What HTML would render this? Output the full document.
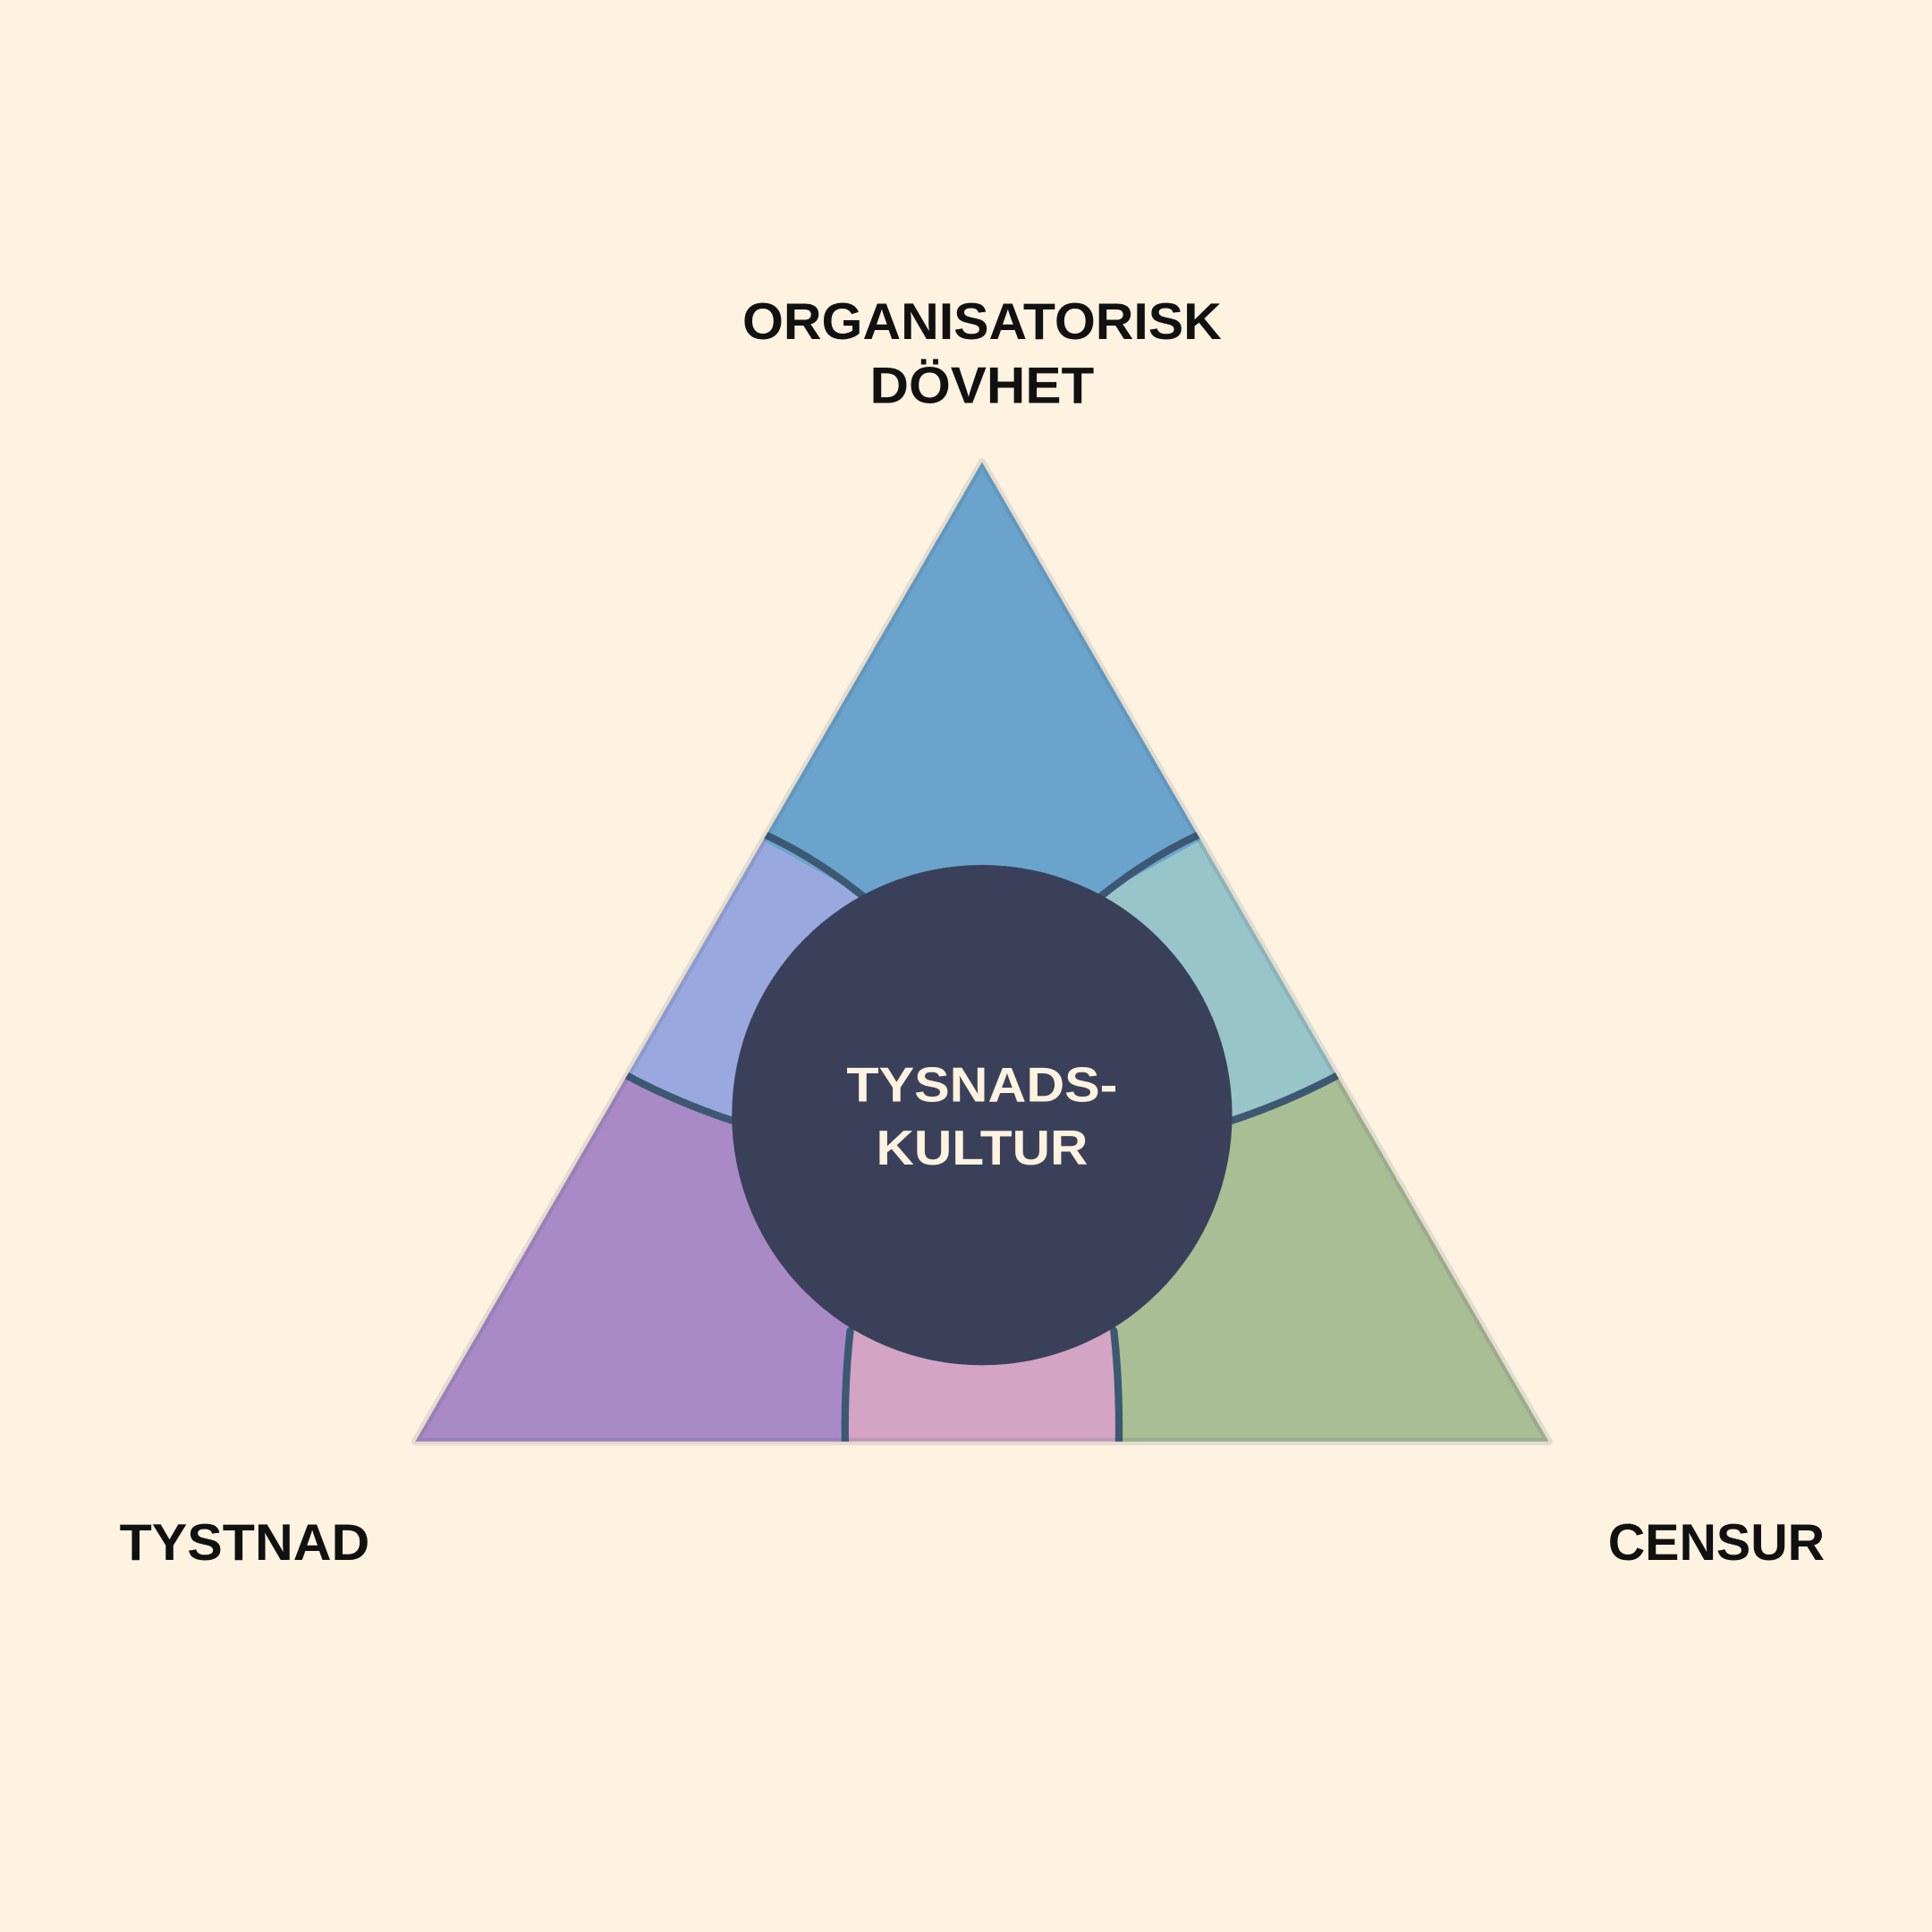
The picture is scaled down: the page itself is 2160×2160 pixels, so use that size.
<!DOCTYPE html>
<html><head><meta charset="utf-8"><style>
html,body{margin:0;padding:0;background:#fef3e0;}
svg{display:block;}
text{font-family:"Liberation Sans",sans-serif;font-weight:bold;}
</style></head><body>
<svg width="2160" height="2160" viewBox="0 0 1568 1568" xmlns="http://www.w3.org/2000/svg">
<rect width="1568" height="1568" fill="#fef3e0"/>
<defs><clipPath id="tri"><polygon points="797,375 337,1170 1257,1170"/></clipPath></defs>
<g clip-path="url(#tri)">
<polygon fill="#6aa4cc" points="797,360 615,680 700,727 797,905 893,727 978,680"/>
<polygon fill="#9aa8e0" points="615,680 505,872 594,910 797,905 700,727"/>
<polygon fill="#97c5c9" points="978,680 1088,872 1000,910 797,905 893,727"/>
<polygon fill="#a98ac7" points="505,872 320,1190 688,1190 688,1080 797,905 594,910"/>
<polygon fill="#d4a4c5" points="688,1190 907,1190 907,1080 797,905 688,1080"/>
<polygon fill="#a9be94" points="1088,872 1270,1190 907,1190 907,1080 797,905 1000,910"/>
<g stroke="#3c5872" stroke-width="6" fill="none" stroke-linecap="round">
<path d="M618,676 Q660,695 700,727"/>
<path d="M976,676 Q934,695 894,727"/>
<path d="M507,872 Q550,895 596,910"/>
<path d="M1087,872 Q1044,895 998,910"/>
<path d="M690,1080 Q685,1125 686,1175"/>
<path d="M904,1080 Q909,1125 908,1175"/>
</g>
</g>
<polygon points="797,375 337,1170 1257,1170" fill="none" stroke="rgba(40,60,90,0.12)" stroke-width="6" stroke-linejoin="round"/>
<circle cx="797" cy="905" r="203" fill="#3a4059"/>
<text x="797" y="894" text-anchor="middle" fill="#fef3e0" font-size="40" textLength="220" lengthAdjust="spacingAndGlyphs">TYSNADS-</text>
<text x="797" y="945" text-anchor="middle" fill="#fef3e0" font-size="40" textLength="172" lengthAdjust="spacingAndGlyphs">KULTUR</text>
<text x="797" y="275" text-anchor="middle" fill="#111" font-size="42" textLength="389" lengthAdjust="spacingAndGlyphs">ORGANISATORISK</text>
<text x="797" y="327" text-anchor="middle" fill="#111" font-size="42" textLength="182" lengthAdjust="spacingAndGlyphs">DÖVHET</text>
<text x="97" y="1266" fill="#111" font-size="42" textLength="203" lengthAdjust="spacingAndGlyphs">TYSTNAD</text>
<text x="1305" y="1266" fill="#111" font-size="42" textLength="176" lengthAdjust="spacingAndGlyphs">CENSUR</text>
</svg>
</body></html>
